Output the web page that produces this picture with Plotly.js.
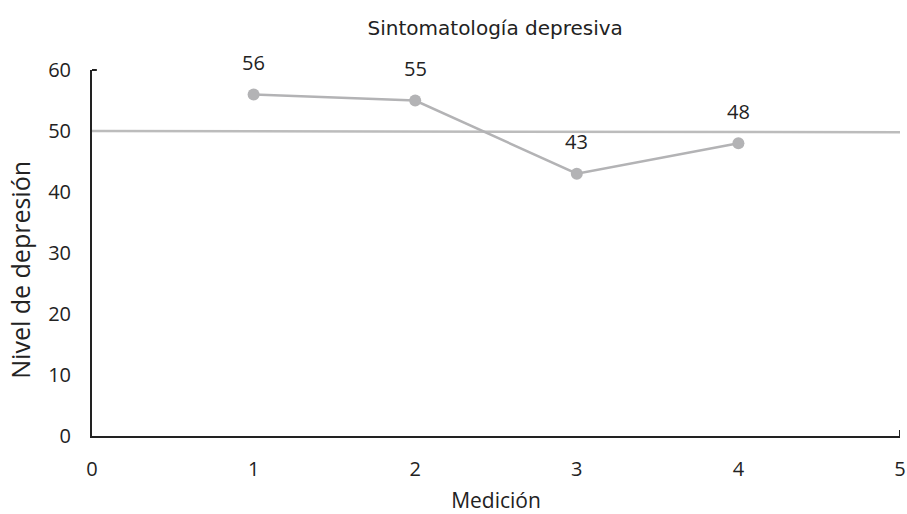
<!DOCTYPE html>
<html><head><meta charset="utf-8">
<script src="https://cdn.plot.ly/plotly-3.0.1.min.js"></script>
<style>html,body{margin:0;padding:0;background:#fff;}</style>
</head><body>
<div id="chart" style="width:907px;height:514px;"></div>
<script>
var mediciones = [1, 2, 3, 4];
var nivel = [56, 55, 43, 48];
var refX = [0, 5];
var refY = [50, 49.8];
var xTicks = [0, 1, 2, 3, 4, 5];
var yTicks = [0, 10, 20, 30, 40, 50, 60];

var gray = '#b3b3b5';
var traces = [
  {x: refX, y: refY, mode: 'lines', line: {color: '#bcbcbc', width: 2.5}, hoverinfo: 'skip'},
  {x: mediciones, y: nivel, mode: 'lines+markers',
   line: {color: gray, width: 2.5}, marker: {color: gray, size: 12}}
];
var annotations = mediciones.map(function(m, i){
  return {x: m, y: nivel[i], text: String(nivel[i]), showarrow: false,
    yshift: 32, font: {family: 'Open Sans', size: 20, color: '#222'}};
});
annotations.push({xref: 'paper', yref: 'paper', x: -0.0888, y: 0.455, xanchor: 'center', yanchor: 'middle',
  text: 'Nivel de depresión', textangle: -90, showarrow: false,
  font: {family: 'Open Sans', size: 25, color: '#222'}});
var layout = {
  width: 907, height: 514,
  margin: {l: 92, r: 7, t: 70, b: 78},
  paper_bgcolor: '#fff', plot_bgcolor: '#fff',
  showlegend: false,
  title: {text: 'Sintomatología depresiva', x: 0.546, xanchor: 'center', y: 0.945, yanchor: 'middle',
    font: {family: 'DejaVu Sans', size: 20, color: '#222'}},
  xaxis: {range: [0, 5], tickvals: xTicks, ticktext: xTicks.map(String),
    showgrid: false, zeroline: false, showline: true, linecolor: '#222', linewidth: 2,
    ticks: 'outside', ticklen: 14, tickcolor: 'rgba(0,0,0,0)', ticklabeloverflow: 'allow',
    tickfont: {family: 'Open Sans', size: 20, color: '#222'},
    title: {text: 'Medición', standoff: 14, font: {family: 'Open Sans', size: 21, color: '#222'}}},
  yaxis: {range: [0, 60], tickvals: yTicks, ticktext: yTicks.map(String),
    showgrid: false, zeroline: false, showline: true, linecolor: '#222', linewidth: 2,
    ticks: 'outside', ticklen: 15, tickcolor: 'rgba(0,0,0,0)',
    tickfont: {family: 'Open Sans', size: 20, color: '#222'}},
  annotations: annotations,
  shapes: [
    {type: 'line', xref: 'x', yref: 'paper', x0: 0, x1: 0.03, y0: 1, y1: 1, line: {color: '#222', width: 2}},
    {type: 'line', xref: 'x', yref: 'y', x0: 5, x1: 5, y0: 0, y1: 1, line: {color: '#222', width: 2}}
  ]
};
Plotly.newPlot('chart', traces, layout, {displayModeBar: false, staticPlot: true});
</script>
</body></html>
